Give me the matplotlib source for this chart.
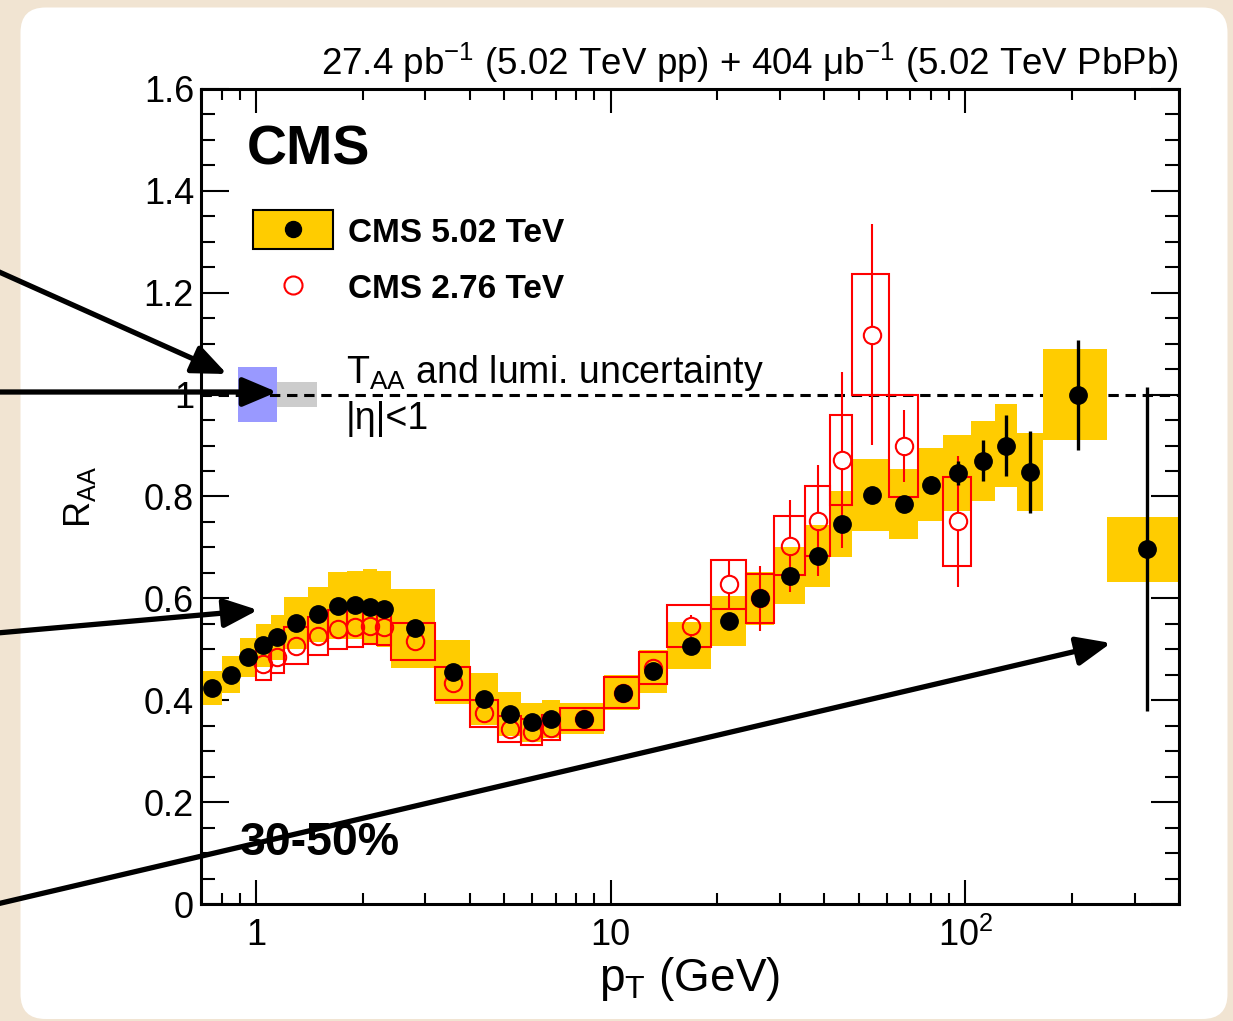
import numpy as np
import matplotlib
matplotlib.use("Agg")
import matplotlib.pyplot as plt
from matplotlib.patches import FancyBboxPatch, Rectangle
from matplotlib.ticker import FixedLocator, MultipleLocator, LogLocator, NullFormatter

plt.rcParams['font.family'] = ['Liberation Sans', 'DejaVu Sans']
plt.rcParams['mathtext.fontset'] = 'custom'
plt.rcParams['mathtext.rm'] = 'Liberation Sans'
plt.rcParams['mathtext.it'] = 'Liberation Sans:italic'
plt.rcParams['mathtext.bf'] = 'Liberation Sans:bold'

# --- CMS 5.02 TeV, 30-50% ---
pt_lo_502 = [0.7, 0.8, 0.9, 1.0, 1.1, 1.2, 1.4, 1.6, 1.8, 2.0, 2.2, 2.4, 3.2, 4.0, 4.8,
             5.6, 6.4, 7.2, 9.6, 12.0, 14.4, 19.2, 24.0, 28.8, 35.2, 41.6, 48.0, 60.8,
             73.6, 86.4, 103.6, 120.8, 140.0, 165.0, 250.0]
pt_hi_502 = [0.8, 0.9, 1.0, 1.1, 1.2, 1.4, 1.6, 1.8, 2.0, 2.2, 2.4, 3.2, 4.0, 4.8, 5.6,
             6.4, 7.2, 9.6, 12.0, 14.4, 19.2, 24.0, 28.8, 35.2, 41.6, 48.0, 60.8, 73.6,
             86.4, 103.6, 120.8, 140.0, 165.0, 250.0, 400.0]
pt_502 = [0.75, 0.85, 0.95, 1.05, 1.15, 1.3, 1.5, 1.7, 1.9, 2.1, 2.3, 2.8, 3.6, 4.4, 5.2,
          6.0, 6.8, 8.4, 10.8, 13.2, 16.8, 21.6, 26.4, 32.0, 38.4, 44.8, 54.4, 67.2,
          80.0, 95.0, 112.2, 130.4, 152.5, 207.5, 325.0]
raa_502 = [0.424, 0.450, 0.484, 0.508, 0.524, 0.551, 0.569, 0.586, 0.587, 0.583, 0.579,
           0.541, 0.456, 0.402, 0.373, 0.357, 0.363, 0.364, 0.415, 0.457, 0.507, 0.556,
           0.600, 0.644, 0.683, 0.746, 0.803, 0.785, 0.823, 0.846, 0.870, 0.900, 0.848,
           1.000, 0.696]
stat_502 = [0.002, 0.002, 0.002, 0.002, 0.002, 0.002, 0.002, 0.002, 0.002, 0.002, 0.002,
            0.002, 0.002, 0.002, 0.002, 0.003, 0.003, 0.003, 0.003, 0.003, 0.004, 0.004,
            0.005, 0.005, 0.008, 0.010, 0.010, 0.012, 0.017, 0.024, 0.040, 0.060, 0.080,
            0.108, 0.318]
sys_502 = [0.033, 0.036, 0.039, 0.042, 0.044, 0.051, 0.054, 0.065, 0.067, 0.075, 0.074,
           0.077, 0.063, 0.051, 0.044, 0.038, 0.037, 0.030, 0.034, 0.042, 0.046, 0.049,
           0.052, 0.056, 0.061, 0.064, 0.071, 0.069, 0.072, 0.075, 0.078, 0.081, 0.076,
           0.090, 0.064]

# --- CMS 2.76 TeV, 30-50% ---
pt_lo_276 = [1.0, 1.1, 1.2, 1.4, 1.6, 1.8, 2.0, 2.2, 2.4, 3.2, 4.0, 4.8, 5.6, 6.4, 7.2,
             9.6, 12.0, 14.4, 19.2, 24.0, 28.8, 35.2, 41.6, 48.0, 60.8, 86.4]
pt_hi_276 = [1.1, 1.2, 1.4, 1.6, 1.8, 2.0, 2.2, 2.4, 3.2, 4.0, 4.8, 5.6, 6.4, 7.2, 9.6,
             12.0, 14.4, 19.2, 24.0, 28.8, 35.2, 41.6, 48.0, 60.8, 73.6, 103.6]
pt_276 = [1.05, 1.15, 1.3, 1.5, 1.7, 1.9, 2.1, 2.3, 2.8, 3.6, 4.4, 5.2, 6.0, 6.8, 8.4,
          10.8, 13.2, 16.8, 21.6, 26.4, 32.0, 38.4, 44.8, 54.4, 67.2, 95.0]
raa_276 = [0.471, 0.484, 0.507, 0.526, 0.539, 0.543, 0.546, 0.543, 0.516, 0.433, 0.374,
           0.344, 0.338, 0.346, 0.363, 0.415, 0.463, 0.546, 0.628, 0.600, 0.703, 0.752,
           0.872, 1.118, 0.899, 0.751]
stat_276 = [0.003, 0.003, 0.003, 0.003, 0.003, 0.003, 0.003, 0.003, 0.003, 0.004, 0.004,
            0.004, 0.005, 0.005, 0.005, 0.006, 0.008, 0.021, 0.046, 0.064, 0.090, 0.109,
            0.173, 0.216, 0.071, 0.129]
sys_276 = [0.031, 0.031, 0.036, 0.038, 0.038, 0.038, 0.036, 0.034, 0.036, 0.032, 0.027,
           0.025, 0.025, 0.025, 0.021, 0.030, 0.031, 0.041, 0.048, 0.048, 0.058, 0.069,
           0.088, 0.118, 0.100, 0.087]

# normalisation uncertainties at R_AA = 1 (T_AA and lumi)
taa_unc = 0.054
lumi_unc = 0.024

y_ticks = [0, 0.2, 0.4, 0.6, 0.8, 1.0, 1.2, 1.4, 1.6]
x_ticks = [1, 10, 100]
x_ticklabels = ['1', '10', '10$^{2}$']

YELLOW = '#ffcc00'

fig = plt.figure(figsize=(12.33, 10.21), dpi=100)
fig.patch.set_facecolor('#f1e4d2')
# white rounded panel behind the plot
panel = FancyBboxPatch((0.205, 0.02), 12.07, 10.115,
                       boxstyle='round,pad=0,rounding_size=0.25',
                       transform=fig.dpi_scale_trans, fc='white', ec='none', zorder=-10)
fig.add_artist(panel)

ax = fig.add_axes([201 / 1233, 117 / 1021, 978 / 1233, 815 / 1021])
ax.set_xscale('log')
ax.set_xlim(0.7, 400)
ax.set_ylim(0, 1.6)

# normalisation boxes
ax.bar(0.89, 2 * taa_unc, bottom=1 - taa_unc, width=1.15 - 0.89, align='edge',
       color='#9999ff', lw=0, zorder=1)
ax.bar(1.15, 2 * lumi_unc, bottom=1 - lumi_unc, width=1.49 - 1.15, align='edge',
       color='#cccccc', lw=0, zorder=1)
ax.axhline(1.0, color='black', lw=2.2, ls=(0, (3.4, 2.2)), zorder=1.5)

# systematic boxes
lo5, hi5 = np.array(pt_lo_502), np.array(pt_hi_502)
r5, s5 = np.array(raa_502), np.array(sys_502)
ax.bar(lo5, 2 * s5, bottom=r5 - s5, width=hi5 - lo5, align='edge',
       color=YELLOW, lw=0, zorder=2)

lo2, hi2 = np.array(pt_lo_276), np.array(pt_hi_276)
r2, s2 = np.array(raa_276), np.array(sys_276)
ax.bar(lo2, 2 * s2, bottom=r2 - s2, width=hi2 - lo2, align='edge',
       fill=False, edgecolor='red', lw=1.5, zorder=3)

# 2.76 TeV: stat bars stop at the open marker edge (ROOT style)
gap = 0.0165
st2 = np.array(stat_276)
has_bar = st2 > gap
ax.vlines(np.array(pt_276)[has_bar], (r2 + gap)[has_bar], (r2 + st2)[has_bar],
          color='red', lw=1.5, zorder=4)
ax.vlines(np.array(pt_276)[has_bar], (r2 - st2)[has_bar], (r2 - gap)[has_bar],
          color='red', lw=1.5, zorder=4)
ax.plot(pt_276, raa_276, 'o', mfc='none', mec='red', mew=1.5, ms=12.5, ls='none', zorder=4)

# 5.02 TeV points
ax.errorbar(pt_502, raa_502, yerr=stat_502, fmt='o', color='black', ms=12.5,
            elinewidth=2.4, capsize=0, zorder=6)

# axes styling
ax.xaxis.set_major_locator(FixedLocator(x_ticks))
ax.set_xticklabels(x_ticklabels)
ax.xaxis.set_minor_locator(LogLocator(base=10, subs=np.arange(2, 10) * 1.0, numticks=20))
ax.xaxis.set_minor_formatter(NullFormatter())
ax.set_yticks(y_ticks)
ax.set_yticklabels([f'{v:g}' for v in y_ticks])
ax.yaxis.set_minor_locator(MultipleLocator(0.05))
ax.tick_params(which='both', direction='in', top=True, right=True, width=1.5,
               labelsize=26)
ax.tick_params(axis='y', which='major', length=20, pad=5)
ax.tick_params(axis='y', which='minor', length=10)
ax.tick_params(axis='x', which='major', length=17, pad=10)
ax.tick_params(axis='x', which='minor', length=8)
for s in ax.spines.values():
    s.set_linewidth(2.2)

ax.set_xlabel(r'p$_{\mathrm{T}}$ (GeV)', fontsize=33)
ax.xaxis.set_label_coords(0.5, -0.063)
ax.set_ylabel(r'R$_{\mathrm{AA}}$', fontsize=26)
ax.yaxis.set_label_coords(-0.105, 0.5)

# texts
ax.text(1.0, 1.017, r'27.4 pb$^{-1}$ (5.02 TeV pp) + 404 μb$^{-1}$ (5.02 TeV PbPb)',
        transform=ax.transAxes, ha='right', va='baseline', fontsize=26.5)
ax.text(0.047, 0.907, 'CMS', transform=ax.transAxes, fontsize=40, fontweight='bold',
        va='baseline')
ax.text(0.040, 0.060, '30-50%', transform=ax.transAxes, fontsize=33.5, fontweight='bold',
        va='baseline', zorder=8)
ax.text(0.148, 0.639, r'T$_{\mathrm{AA}}$ and lumi. uncertainty', transform=ax.transAxes,
        fontsize=27, va='baseline')
ax.text(0.148, 0.583, '|η|<1', transform=ax.transAxes, fontsize=27, va='baseline')

# legend
ax.add_patch(Rectangle((0.053, 0.804), 0.082, 0.048, transform=ax.transAxes,
                       fc=YELLOW, ec='black', lw=1.5, zorder=7))
ax.plot([0.094], [0.828], 'o', color='black', ms=11.5, transform=ax.transAxes, zorder=8)
ax.plot([0.094], [0.760], 'o', mfc='none', mec='red', mew=1.5, ms=13,
        transform=ax.transAxes, zorder=8)
ax.text(0.150, 0.823, 'CMS 5.02 TeV', transform=ax.transAxes, fontsize=24,
        fontweight='bold', va='center')
ax.text(0.150, 0.754, 'CMS 2.76 TeV', transform=ax.transAxes, fontsize=24,
        fontweight='bold', va='center')

# pointer arrows coming in from the left edge (figure pixels)
arrows = [((-3, 750), (227, 647)),
          ((-3, 629), (277, 629)),
          ((-3, 388), (258, 411)),
          ((-3, 117), (1111, 378))]
for tail, tip in arrows:
    ax.annotate('', xy=tip, xycoords='figure pixels', xytext=tail,
                textcoords='figure pixels', annotation_clip=False, zorder=20,
                arrowprops=dict(arrowstyle='-|>,head_length=1.3,head_width=0.55',
                                mutation_scale=16, lw=3.8, color='black',
                                shrinkA=0, shrinkB=0))

fig.savefig('out.png', dpi=100)
